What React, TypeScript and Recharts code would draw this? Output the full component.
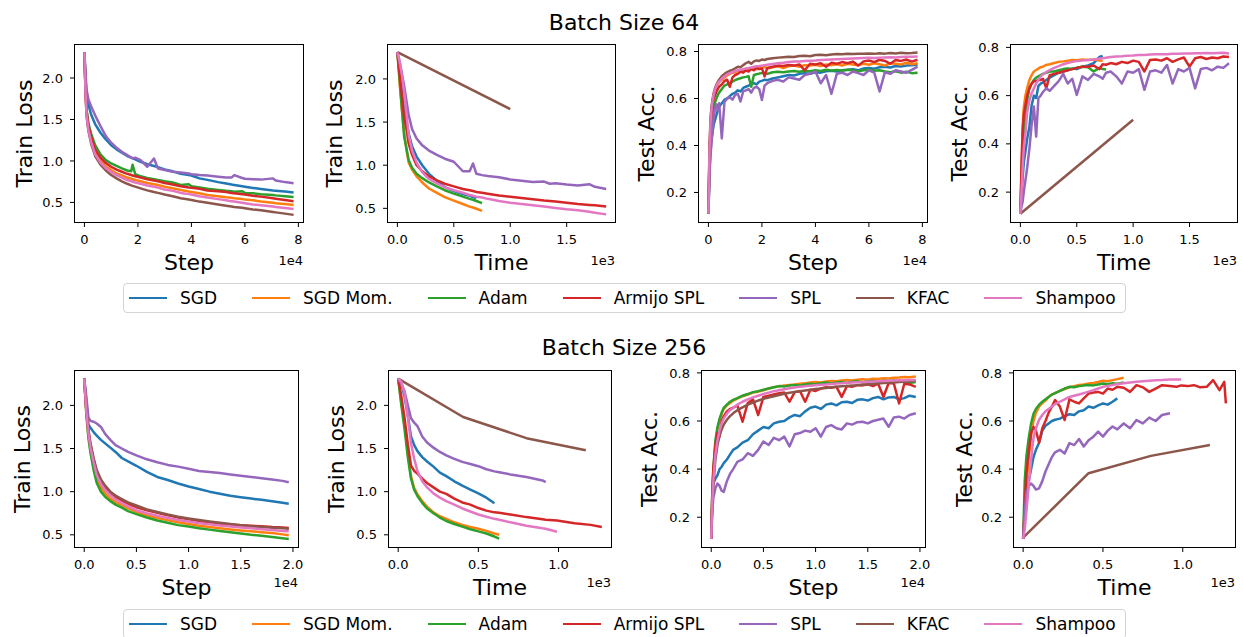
import React from 'react';
import { LineChart, Line, XAxis, YAxis } from 'recharts';

const NAMES = ['SGD', 'SGD Mom.', 'Adam', 'Armijo SPL', 'SPL', 'KFAC', 'Shampoo'];
const COLORS = ['#1f77b4', '#ff7f0e', '#2ca02c', '#d62728', '#9467bd', '#8c564b', '#e377c2'];

// ---------- Batch 64: train loss vs step (x in 1e4) ----------
const STEP64_L = [0, 0.04, 0.08, 0.15, 0.25, 0.4, 0.6, 0.8, 1.0, 1.2, 1.4, 1.6, 1.75, 1.8, 1.9, 2.1, 2.35, 2.6, 2.75, 3.0, 3.3, 3.6, 3.9, 4.0, 4.3, 4.6, 5.0, 5.3, 5.5, 5.6, 5.9, 6.0, 6.3, 6.6, 7.05, 7.15, 7.5, 7.82];
const SGD_L64 = [2.31, 2.0, 1.8, 1.68, 1.56, 1.445, 1.34, 1.26, 1.19, 1.14, 1.10, 1.06, 1.04, 1.035, 1.02, 0.99, 0.96, 0.94, 0.925, 0.897, 0.875, 0.845, 0.83, 0.825, 0.79, 0.772, 0.745, 0.728, 0.715, 0.71, 0.695, 0.69, 0.675, 0.662, 0.645, 0.642, 0.632, 0.62];
const MOM_L64 = [2.31, 1.85, 1.57, 1.39, 1.25, 1.10, 1.0, 0.935, 0.89, 0.85, 0.825, 0.80, 0.785, 0.78, 0.77, 0.755, 0.735, 0.72, 0.71, 0.69, 0.67, 0.65, 0.632, 0.627, 0.61, 0.59, 0.575, 0.562, 0.555, 0.55, 0.54, 0.535, 0.525, 0.51, 0.495, 0.49, 0.48, 0.47];
const ADAM_L64 = [2.31, 1.9, 1.62, 1.45, 1.33, 1.19, 1.08, 1.01, 0.97, 0.94, 0.91, 0.885, 0.875, 0.955, 0.84, 0.815, 0.795, 0.78, 0.77, 0.755, 0.74, 0.71, 0.72, 0.695, 0.68, 0.665, 0.65, 0.64, 0.635, 0.63, 0.635, 0.615, 0.61, 0.60, 0.59, 0.585, 0.575, 0.565];
const ARM_L64 = [2.31, 1.88, 1.6, 1.42, 1.29, 1.14, 1.04, 0.975, 0.93, 0.895, 0.87, 0.845, 0.83, 0.825, 0.815, 0.80, 0.78, 0.765, 0.755, 0.735, 0.715, 0.695, 0.68, 0.677, 0.665, 0.645, 0.635, 0.625, 0.615, 0.61, 0.60, 0.595, 0.58, 0.57, 0.55, 0.545, 0.53, 0.515];
const SPL_L64 = [2.31, 2.05, 1.86, 1.74, 1.66, 1.55, 1.42, 1.30, 1.22, 1.16, 1.11, 1.07, 1.04, 1.03, 1.04, 1.01, 0.93, 1.03, 0.91, 0.89, 0.87, 0.86, 0.85, 0.84, 0.83, 0.825, 0.81, 0.80, 0.80, 0.83, 0.795, 0.785, 0.78, 0.775, 0.79, 0.765, 0.745, 0.73];
const KFAC_L64 = [2.31, 1.83, 1.54, 1.36, 1.21, 1.06, 0.955, 0.885, 0.83, 0.79, 0.755, 0.725, 0.705, 0.70, 0.69, 0.67, 0.645, 0.625, 0.615, 0.595, 0.575, 0.55, 0.535, 0.53, 0.51, 0.495, 0.475, 0.46, 0.45, 0.445, 0.435, 0.43, 0.415, 0.405, 0.385, 0.38, 0.365, 0.35];
const SHA_L64 = [2.31, 1.84, 1.55, 1.37, 1.23, 1.08, 0.98, 0.915, 0.865, 0.83, 0.80, 0.77, 0.755, 0.75, 0.74, 0.725, 0.705, 0.69, 0.68, 0.655, 0.64, 0.615, 0.60, 0.595, 0.575, 0.56, 0.54, 0.525, 0.515, 0.51, 0.495, 0.49, 0.475, 0.465, 0.45, 0.445, 0.432, 0.42];

// ---------- Batch 64: train loss vs time (x in 1e3) ----------
const TIME64_L = [0, 0.02, 0.04, 0.06, 0.08, 0.1, 0.13, 0.17, 0.22, 0.28, 0.35, 0.42, 0.5, 0.58, 0.64, 0.67, 0.7, 0.75, 0.8, 0.9, 1.0, 1.1, 1.2, 1.3, 1.35, 1.4, 1.5, 1.6, 1.7, 1.75, 1.85];
const SGD_LT64 = [2.31, 2.1, 1.85, 1.65, 1.5, 1.37, 1.22, 1.10, 1.0, 0.9, 0.82, 0.745, 0.70, 0.665, 0.645, 0.632, 0.62];
const MOM_LT64 = [2.31, 1.95, 1.65, 1.38, 1.18, 1.03, 0.95, 0.87, 0.80, 0.73, 0.68, 0.63, 0.59, 0.55, 0.52, 0.51, 0.495, 0.47];
const ADAM_LT64 = [2.31, 2.0, 1.65, 1.33, 1.2, 1.06, 0.97, 0.90, 0.85, 0.80, 0.755, 0.71, 0.67, 0.635, 0.61, 0.60, 0.585, 0.56];
const ARM_LT64 = [2.31, 2.05, 1.8, 1.55, 1.42, 1.25, 1.12, 1.0, 0.93, 0.87, 0.825, 0.785, 0.755, 0.725, 0.71, 0.70, 0.69, 0.68, 0.67, 0.65, 0.635, 0.62, 0.605, 0.59, 0.585, 0.578, 0.565, 0.55, 0.54, 0.535, 0.52];
const SPL_LT64 = [2.31, 2.2, 2.06, 1.92, 1.75, 1.58, 1.42, 1.31, 1.23, 1.17, 1.12, 1.075, 1.04, 0.93, 0.93, 1.02, 0.90, 0.885, 0.875, 0.86, 0.835, 0.82, 0.805, 0.81, 0.785, 0.79, 0.775, 0.765, 0.78, 0.75, 0.725];
const SHA_LT64 = [2.31, 2.2, 2.05, 1.85, 1.6, 1.35, 1.17, 1.03, 0.92, 0.84, 0.79, 0.745, 0.71, 0.68, 0.655, 0.645, 0.635, 0.625, 0.61, 0.585, 0.565, 0.55, 0.535, 0.52, 0.512, 0.505, 0.49, 0.478, 0.46, 0.45, 0.43];
const KFAC_LT64_X = [0, 1.0];
const KFAC_LT64 = [2.31, 1.65];

// ---------- Batch 64: test acc vs step (x in 1e4) ----------
const STEP64_A = [0, 0.04, 0.08, 0.12, 0.16, 0.2, 0.25, 0.3, 0.35, 0.4, 0.5, 0.6, 0.7, 0.8, 0.9, 1.0, 1.1, 1.2, 1.3, 1.4, 1.5, 1.6, 1.7, 1.8, 1.9, 2.0, 2.1, 2.2, 2.4, 2.6, 2.8, 3.0, 3.2, 3.4, 3.6, 3.8, 4.0, 4.2, 4.4, 4.6, 4.8, 5.0, 5.2, 5.4, 5.6, 5.8, 6.0, 6.2, 6.4, 6.6, 6.8, 7.0, 7.2, 7.4, 7.6, 7.82];
const SGD_A64 = [0.11, 0.30, 0.38, 0.43, 0.46, 0.49, 0.51, 0.53, 0.55, 0.565, 0.58, 0.595, 0.60, 0.61, 0.62, 0.625, 0.635, 0.63, 0.645, 0.65, 0.655, 0.66, 0.665, 0.66, 0.672, 0.675, 0.68, 0.678, 0.685, 0.69, 0.695, 0.70, 0.698, 0.705, 0.708, 0.705, 0.712, 0.71, 0.716, 0.718, 0.715, 0.72, 0.722, 0.725, 0.72, 0.728, 0.73, 0.727, 0.733, 0.735, 0.732, 0.738, 0.736, 0.74, 0.742, 0.745];
const MOM_A64 = [0.11, 0.37, 0.49, 0.555, 0.59, 0.615, 0.635, 0.65, 0.66, 0.67, 0.68, 0.69, 0.698, 0.705, 0.71, 0.712, 0.718, 0.715, 0.722, 0.725, 0.72, 0.727, 0.73, 0.725, 0.732, 0.73, 0.735, 0.728, 0.733, 0.737, 0.73, 0.738, 0.74, 0.735, 0.742, 0.74, 0.744, 0.738, 0.745, 0.742, 0.746, 0.74, 0.748, 0.745, 0.742, 0.748, 0.744, 0.75, 0.746, 0.74, 0.75, 0.748, 0.745, 0.752, 0.746, 0.75];
const ADAM_A64 = [0.11, 0.33, 0.45, 0.51, 0.54, 0.565, 0.585, 0.60, 0.615, 0.625, 0.64, 0.655, 0.66, 0.665, 0.672, 0.678, 0.683, 0.686, 0.69, 0.692, 0.695, 0.65, 0.70, 0.703, 0.706, 0.708, 0.71, 0.705, 0.712, 0.714, 0.712, 0.715, 0.717, 0.714, 0.718, 0.716, 0.72, 0.717, 0.722, 0.719, 0.721, 0.718, 0.722, 0.72, 0.716, 0.72, 0.722, 0.718, 0.72, 0.715, 0.712, 0.716, 0.71, 0.714, 0.708, 0.71];
const ARM_A64 = [0.11, 0.36, 0.48, 0.54, 0.58, 0.60, 0.615, 0.63, 0.64, 0.65, 0.66, 0.675, 0.68, 0.65, 0.69, 0.70, 0.705, 0.715, 0.71, 0.72, 0.715, 0.725, 0.72, 0.73, 0.725, 0.728, 0.694, 0.73, 0.735, 0.74, 0.738, 0.743, 0.74, 0.745, 0.72, 0.748, 0.745, 0.75, 0.735, 0.752, 0.748, 0.755, 0.75, 0.757, 0.74, 0.758, 0.762, 0.755, 0.765, 0.76, 0.748, 0.764, 0.76, 0.766, 0.757, 0.765];
const SPL_A64 = [0.11, 0.28, 0.36, 0.42, 0.47, 0.52, 0.56, 0.575, 0.55, 0.58, 0.43, 0.585, 0.60, 0.605, 0.595, 0.615, 0.62, 0.587, 0.63, 0.635, 0.64, 0.625, 0.645, 0.65, 0.64, 0.594, 0.655, 0.665, 0.675, 0.68, 0.672, 0.69, 0.685, 0.68, 0.70, 0.705, 0.715, 0.665, 0.70, 0.62, 0.705, 0.71, 0.70, 0.715, 0.708, 0.70, 0.72, 0.71, 0.63, 0.712, 0.705, 0.72, 0.715, 0.71, 0.722, 0.736];
const KFAC_A64 = [0.11, 0.40, 0.52, 0.57, 0.60, 0.625, 0.645, 0.66, 0.67, 0.68, 0.695, 0.705, 0.712, 0.718, 0.722, 0.728, 0.735, 0.733, 0.742, 0.75, 0.756, 0.748, 0.758, 0.762, 0.76, 0.766, 0.764, 0.768, 0.771, 0.774, 0.776, 0.778, 0.777, 0.781, 0.782, 0.78, 0.785, 0.786, 0.784, 0.787, 0.789, 0.788, 0.79, 0.789, 0.791, 0.79, 0.792, 0.79, 0.793, 0.791, 0.794, 0.792, 0.795, 0.793, 0.794, 0.796];
const SHA_A64 = [0.11, 0.38, 0.50, 0.56, 0.595, 0.62, 0.64, 0.655, 0.665, 0.672, 0.685, 0.695, 0.703, 0.708, 0.712, 0.717, 0.72, 0.722, 0.725, 0.728, 0.73, 0.732, 0.735, 0.737, 0.738, 0.74, 0.742, 0.744, 0.747, 0.75, 0.752, 0.755, 0.757, 0.758, 0.76, 0.761, 0.762, 0.764, 0.765, 0.766, 0.767, 0.768, 0.769, 0.77, 0.771, 0.772, 0.773, 0.772, 0.774, 0.775, 0.776, 0.775, 0.777, 0.778, 0.778, 0.779];

// ---------- Batch 64: test acc vs time (x in 1e3) ----------
const TIME64_A = [0, 0.01, 0.02, 0.03, 0.045, 0.06, 0.08, 0.1, 0.12, 0.14, 0.16, 0.18, 0.2, 0.23, 0.26, 0.3, 0.34, 0.38, 0.42, 0.46, 0.5, 0.55, 0.6, 0.65, 0.7, 0.73, 0.76, 0.8, 0.85, 0.9, 0.95, 1.0, 1.05, 1.1, 1.15, 1.2, 1.25, 1.3, 1.35, 1.4, 1.45, 1.5, 1.55, 1.6, 1.65, 1.7, 1.75, 1.8, 1.85];
const SGD_AT64 = [0.11, 0.18, 0.26, 0.32, 0.37, 0.42, 0.47, 0.56, 0.60, 0.59, 0.64, 0.65, 0.655, 0.665, 0.675, 0.685, 0.695, 0.70, 0.705, 0.712, 0.71, 0.72, 0.725, 0.735, 0.76, 0.765];
const MOM_AT64 = [0.11, 0.3, 0.47, 0.55, 0.6, 0.63, 0.665, 0.685, 0.70, 0.706, 0.712, 0.718, 0.72, 0.727, 0.73, 0.735, 0.74, 0.742, 0.745, 0.748, 0.747, 0.75, 0.748, 0.75, 0.746, 0.745];
const ADAM_AT64 = [0.11, 0.25, 0.38, 0.45, 0.52, 0.58, 0.63, 0.65, 0.665, 0.675, 0.68, 0.685, 0.69, 0.695, 0.70, 0.70, 0.705, 0.71, 0.713, 0.71, 0.716, 0.72, 0.718, 0.70, 0.715, 0.71, 0.708];
const ARM_AT64 = [0.11, 0.3, 0.45, 0.52, 0.56, 0.6, 0.63, 0.65, 0.66, 0.66, 0.665, 0.665, 0.67, 0.63, 0.685, 0.69, 0.695, 0.70, 0.705, 0.71, 0.715, 0.72, 0.72, 0.725, 0.71, 0.73, 0.728, 0.735, 0.73, 0.74, 0.735, 0.745, 0.74, 0.70, 0.748, 0.75, 0.745, 0.755, 0.74, 0.75, 0.758, 0.72, 0.755, 0.76, 0.752, 0.758, 0.755, 0.762, 0.76];
const SPL_AT64 = [0.11, 0.14, 0.16, 0.2, 0.25, 0.30, 0.38, 0.48, 0.555, 0.43, 0.59, 0.60, 0.615, 0.63, 0.62, 0.64, 0.66, 0.69, 0.65, 0.67, 0.603, 0.68, 0.665, 0.69, 0.68, 0.67, 0.695, 0.70, 0.68, 0.65, 0.70, 0.695, 0.71, 0.624, 0.70, 0.705, 0.695, 0.727, 0.65, 0.71, 0.70, 0.715, 0.63, 0.71, 0.715, 0.705, 0.72, 0.715, 0.734];
const SHA_AT64 = [0.11, 0.2, 0.3, 0.38, 0.44, 0.53, 0.58, 0.61, 0.63, 0.65, 0.665, 0.68, 0.688, 0.698, 0.706, 0.715, 0.722, 0.73, 0.735, 0.74, 0.743, 0.746, 0.748, 0.75, 0.753, 0.755, 0.757, 0.76, 0.762, 0.763, 0.765, 0.766, 0.768, 0.768, 0.77, 0.771, 0.772, 0.772, 0.774, 0.774, 0.775, 0.775, 0.776, 0.776, 0.777, 0.776, 0.777, 0.778, 0.775];
const KFAC_AT64_X = [0, 1.0];
const KFAC_AT64 = [0.11, 0.50];

// ---------- Batch 256: train loss vs step (x in 1e4) ----------
const STEP256_L = [0, 0.02, 0.04, 0.06, 0.09, 0.12, 0.16, 0.2, 0.25, 0.3, 0.36, 0.42, 0.5, 0.6, 0.7, 0.8, 0.9, 1.0, 1.1, 1.2, 1.3, 1.4, 1.5, 1.6, 1.7, 1.8, 1.9, 1.96];
const SGD_L256 = [2.31, 2.05, 1.78, 1.74, 1.69, 1.65, 1.60, 1.56, 1.51, 1.46, 1.39, 1.35, 1.30, 1.23, 1.17, 1.135, 1.095, 1.06, 1.03, 1.0, 0.975, 0.952, 0.935, 0.92, 0.905, 0.89, 0.872, 0.86];
const MOM_L256 = [2.31, 1.92, 1.65, 1.48, 1.3, 1.15, 1.05, 0.98, 0.92, 0.88, 0.845, 0.81, 0.765, 0.725, 0.695, 0.67, 0.645, 0.625, 0.605, 0.59, 0.575, 0.562, 0.55, 0.54, 0.53, 0.52, 0.505, 0.495];
const ADAM_L256 = [2.31, 1.9, 1.62, 1.45, 1.25, 1.1, 1.0, 0.94, 0.89, 0.85, 0.815, 0.775, 0.74, 0.70, 0.665, 0.64, 0.612, 0.595, 0.575, 0.56, 0.545, 0.53, 0.515, 0.50, 0.49, 0.475, 0.46, 0.45];
const ARM_L256 = [2.31, 1.95, 1.7, 1.54, 1.37, 1.22, 1.12, 1.05, 0.99, 0.94, 0.895, 0.86, 0.82, 0.785, 0.755, 0.725, 0.70, 0.68, 0.66, 0.645, 0.632, 0.62, 0.612, 0.605, 0.598, 0.59, 0.585, 0.58];
const SPL_L256 = [2.31, 2.1, 1.86, 1.82, 1.81, 1.79, 1.75, 1.67, 1.60, 1.54, 1.50, 1.46, 1.42, 1.375, 1.34, 1.31, 1.29, 1.265, 1.24, 1.228, 1.215, 1.20, 1.185, 1.17, 1.155, 1.14, 1.125, 1.11];
const KFAC_L256 = [2.31, 1.96, 1.72, 1.56, 1.39, 1.25, 1.14, 1.07, 1.0, 0.955, 0.915, 0.875, 0.84, 0.795, 0.765, 0.735, 0.71, 0.69, 0.672, 0.655, 0.64, 0.625, 0.612, 0.60, 0.59, 0.582, 0.575, 0.57];
const SHA_L256 = [2.31, 1.94, 1.68, 1.51, 1.34, 1.19, 1.09, 1.02, 0.96, 0.91, 0.87, 0.83, 0.785, 0.75, 0.72, 0.695, 0.672, 0.655, 0.635, 0.622, 0.608, 0.597, 0.585, 0.575, 0.565, 0.555, 0.545, 0.54];

// ---------- Batch 256: train loss vs time (x in 1e3) ----------
const TIME256_L = [0, 0.02, 0.04, 0.06, 0.08, 0.1, 0.12, 0.15, 0.18, 0.22, 0.26, 0.3, 0.35, 0.4, 0.45, 0.5, 0.55, 0.6, 0.63, 0.7, 0.8, 0.9, 0.92, 0.99, 1.1, 1.2, 1.27];
const SGD_LT256 = [2.31, 2.25, 2.1, 1.88, 1.64, 1.54, 1.47, 1.40, 1.35, 1.29, 1.22, 1.18, 1.12, 1.07, 1.025, 0.98, 0.93, 0.865];
const MOM_LT256 = [2.31, 2.02, 1.8, 1.45, 1.18, 1.04, 0.97, 0.89, 0.825, 0.76, 0.715, 0.685, 0.645, 0.615, 0.59, 0.57, 0.545, 0.515, 0.50];
const ADAM_LT256 = [2.31, 2.0, 1.72, 1.4, 1.15, 1.02, 0.95, 0.87, 0.805, 0.75, 0.70, 0.66, 0.625, 0.595, 0.565, 0.54, 0.515, 0.48, 0.455];
const ARM_LT256 = [2.31, 2.1, 1.85, 1.55, 1.30, 1.24, 1.21, 1.15, 1.10, 1.05, 1.0, 0.975, 0.92, 0.875, 0.85, 0.81, 0.78, 0.76, 0.755, 0.735, 0.705, 0.68, 0.675, 0.665, 0.635, 0.615, 0.59];
const SPL_LT256 = [2.31, 2.25, 2.16, 2.0, 1.85, 1.80, 1.76, 1.64, 1.57, 1.51, 1.46, 1.42, 1.38, 1.345, 1.32, 1.295, 1.26, 1.235, 1.225, 1.20, 1.17, 1.13, 1.11];
const SHA_LT256 = [2.31, 2.27, 2.14, 1.87, 1.56, 1.38, 1.24, 1.12, 1.05, 0.98, 0.93, 0.89, 0.85, 0.805, 0.77, 0.735, 0.71, 0.685, 0.675, 0.645, 0.605, 0.575, 0.57, 0.535];
const KFAC_LT256_X = [0, 0.405, 0.80, 1.17];
const KFAC_LT256 = [2.31, 1.865, 1.62, 1.48];

// ---------- Batch 256: test acc vs step (x in 1e4) ----------
const STEP256_A = [0, 0.01, 0.02, 0.04, 0.06, 0.08, 0.1, 0.12, 0.15, 0.18, 0.21, 0.25, 0.3, 0.35, 0.4, 0.45, 0.5, 0.55, 0.6, 0.65, 0.7, 0.75, 0.8, 0.85, 0.9, 0.95, 1.0, 1.05, 1.1, 1.15, 1.2, 1.25, 1.3, 1.35, 1.4, 1.45, 1.5, 1.55, 1.6, 1.65, 1.7, 1.75, 1.8, 1.85, 1.9, 1.96];
const SGD_A256 = [0.11, 0.28, 0.34, 0.36, 0.375, 0.40, 0.41, 0.425, 0.44, 0.46, 0.48, 0.49, 0.51, 0.52, 0.545, 0.56, 0.575, 0.57, 0.59, 0.597, 0.60, 0.615, 0.625, 0.62, 0.64, 0.655, 0.66, 0.65, 0.668, 0.673, 0.665, 0.678, 0.68, 0.675, 0.688, 0.69, 0.685, 0.695, 0.70, 0.69, 0.698, 0.70, 0.69, 0.695, 0.705, 0.70];
const MOM_A256 = [0.11, 0.28, 0.38, 0.50, 0.565, 0.60, 0.63, 0.65, 0.665, 0.675, 0.685, 0.693, 0.703, 0.71, 0.718, 0.722, 0.728, 0.735, 0.74, 0.744, 0.748, 0.75, 0.752, 0.755, 0.757, 0.76, 0.762, 0.76, 0.764, 0.766, 0.765, 0.768, 0.77, 0.768, 0.772, 0.774, 0.772, 0.776, 0.775, 0.778, 0.777, 0.78, 0.781, 0.783, 0.782, 0.785];
const ADAM_A256 = [0.11, 0.30, 0.40, 0.52, 0.575, 0.61, 0.635, 0.655, 0.668, 0.68, 0.688, 0.695, 0.705, 0.712, 0.72, 0.724, 0.73, 0.735, 0.74, 0.745, 0.743, 0.748, 0.75, 0.748, 0.752, 0.755, 0.753, 0.757, 0.76, 0.756, 0.76, 0.762, 0.758, 0.763, 0.765, 0.76, 0.764, 0.766, 0.762, 0.767, 0.765, 0.768, 0.764, 0.766, 0.758, 0.762];
const ARM_A256 = [0.11, 0.30, 0.40, 0.50, 0.55, 0.535, 0.60, 0.62, 0.64, 0.65, 0.655, 0.665, 0.597, 0.675, 0.69, 0.625, 0.70, 0.705, 0.71, 0.715, 0.718, 0.68, 0.72, 0.725, 0.68, 0.73, 0.725, 0.735, 0.74, 0.738, 0.742, 0.70, 0.745, 0.742, 0.75, 0.748, 0.752, 0.745, 0.755, 0.70, 0.758, 0.756, 0.673, 0.755, 0.752, 0.742];
const SPL_A256 = [0.11, 0.22, 0.28, 0.32, 0.34, 0.33, 0.31, 0.305, 0.35, 0.38, 0.40, 0.43, 0.44, 0.466, 0.455, 0.48, 0.515, 0.50, 0.53, 0.52, 0.535, 0.494, 0.545, 0.55, 0.56, 0.555, 0.57, 0.535, 0.575, 0.583, 0.57, 0.565, 0.59, 0.585, 0.595, 0.597, 0.59, 0.60, 0.605, 0.61, 0.576, 0.615, 0.618, 0.61, 0.625, 0.632];
const KFAC_A256 = [0.11, 0.25, 0.33, 0.44, 0.50, 0.54, 0.565, 0.585, 0.605, 0.62, 0.632, 0.645, 0.657, 0.668, 0.677, 0.685, 0.692, 0.698, 0.703, 0.708, 0.713, 0.717, 0.721, 0.724, 0.727, 0.73, 0.733, 0.735, 0.737, 0.74, 0.742, 0.744, 0.746, 0.748, 0.749, 0.751, 0.753, 0.754, 0.756, 0.758, 0.759, 0.76, 0.762, 0.763, 0.765, 0.767];
const SHA_A256 = [0.11, 0.26, 0.35, 0.46, 0.52, 0.56, 0.59, 0.61, 0.63, 0.645, 0.655, 0.668, 0.68, 0.69, 0.698, 0.705, 0.712, 0.718, 0.724, 0.728, 0.732, 0.736, 0.739, 0.742, 0.744, 0.747, 0.749, 0.751, 0.752, 0.754, 0.756, 0.757, 0.759, 0.76, 0.761, 0.762, 0.763, 0.764, 0.765, 0.766, 0.767, 0.768, 0.769, 0.769, 0.77, 0.77];

// ---------- Batch 256: test acc vs time (x in 1e3) ----------
const TIME256_A = [0, 0.01, 0.02, 0.035, 0.05, 0.065, 0.08, 0.1, 0.12, 0.14, 0.16, 0.18, 0.2, 0.23, 0.26, 0.29, 0.32, 0.35, 0.38, 0.41, 0.44, 0.47, 0.5, 0.53, 0.56, 0.59, 0.63, 0.67, 0.71, 0.75, 0.79, 0.83, 0.87, 0.92, 0.96, 0.99, 1.03, 1.07, 1.11, 1.15, 1.19, 1.23, 1.26, 1.27];
const SGD_AT256 = [0.11, 0.2, 0.28, 0.35, 0.40, 0.45, 0.48, 0.51, 0.56, 0.58, 0.59, 0.60, 0.605, 0.61, 0.62, 0.628, 0.625, 0.64, 0.645, 0.66, 0.655, 0.665, 0.673, 0.668, 0.68, 0.694];
const MOM_AT256 = [0.11, 0.22, 0.32, 0.45, 0.54, 0.60, 0.635, 0.66, 0.675, 0.685, 0.70, 0.71, 0.716, 0.725, 0.733, 0.74, 0.745, 0.75, 0.752, 0.756, 0.758, 0.762, 0.767, 0.765, 0.77, 0.774, 0.78];
const ADAM_AT256 = [0.11, 0.35, 0.45, 0.53, 0.59, 0.63, 0.65, 0.668, 0.68, 0.69, 0.70, 0.71, 0.716, 0.725, 0.735, 0.742, 0.74, 0.745, 0.748, 0.75, 0.748, 0.752, 0.756, 0.753, 0.757, 0.755, 0.76];
const ARM_AT256 = [0.11, 0.25, 0.38, 0.47, 0.55, 0.575, 0.56, 0.51, 0.57, 0.60, 0.635, 0.66, 0.687, 0.66, 0.604, 0.69, 0.68, 0.673, 0.694, 0.714, 0.718, 0.721, 0.714, 0.735, 0.73, 0.742, 0.738, 0.721, 0.749, 0.74, 0.721, 0.735, 0.749, 0.745, 0.742, 0.748, 0.745, 0.749, 0.74, 0.742, 0.77, 0.728, 0.763, 0.673];
const SPL_AT256 = [0.11, 0.22, 0.30, 0.33, 0.34, 0.33, 0.315, 0.32, 0.35, 0.39, 0.42, 0.45, 0.47, 0.48, 0.465, 0.508, 0.50, 0.525, 0.494, 0.52, 0.535, 0.556, 0.535, 0.56, 0.577, 0.565, 0.59, 0.57, 0.604, 0.59, 0.614, 0.60, 0.625, 0.632];
const SHA_AT256 = [0.11, 0.15, 0.22, 0.33, 0.44, 0.53, 0.57, 0.605, 0.625, 0.64, 0.65, 0.66, 0.67, 0.68, 0.69, 0.70, 0.705, 0.71, 0.716, 0.722, 0.728, 0.735, 0.742, 0.746, 0.75, 0.754, 0.757, 0.76, 0.763, 0.765, 0.767, 0.769, 0.77, 0.772, 0.773, 0.773];
const KFAC_AT256_X = [0, 0.41, 0.80, 1.17];
const KFAC_AT256 = [0.115, 0.383, 0.455, 0.50];

const LOSS_TICKS = [0.5, 1.0, 1.5, 2.0];
const ACC_TICKS = [0.2, 0.4, 0.6, 0.8];
const STEP64_TICKS = [0, 2, 4, 6, 8];
const STEP256_TICKS = [0, 0.5, 1.0, 1.5, 2.0];
const TIME64_TICKS = [0, 0.5, 1.0, 1.5];
const TIME256_TICKS = [0, 0.5, 1.0];

type Pt = { x: number; y: number };
const zip = (xs: number[], ys: number[]): Pt[] => ys.map((y, i) => ({ x: xs[i], y }));
const f1 = (v: number) => v.toFixed(1);
const f0 = (v: number) => String(v);

const FONT = 'DejaVu Sans, Liberation Sans, sans-serif';

interface PanelDef {
  L: number; T: number; W: number; H: number;
  xd: [number, number]; yd: [number, number];
  xt: number[]; yt: number[]; xf: (v: number) => string;
  xl: string; yl: string; ex: string; ylx: number;
  series: Pt[][];
}

const PANELS: PanelDef[] = [
  {
    L: 74, T: 44, W: 230, H: 179, xd: [-0.39, 8.21], yd: [0.252, 2.41], xt: STEP64_TICKS, yt: LOSS_TICKS, xf: f0,
    xl: 'Step', yl: 'Train Loss', ex: '1e4', ylx: 32,
    series: [zip(STEP64_L, SGD_L64), zip(STEP64_L, MOM_L64), zip(STEP64_L, ADAM_L64), zip(STEP64_L, ARM_L64), zip(STEP64_L, SPL_L64), zip(STEP64_L, KFAC_L64), zip(STEP64_L, SHA_L64)],
  },
  {
    L: 387, T: 44, W: 229, H: 179, xd: [-0.092, 1.937], yd: [0.33, 2.405], xt: TIME64_TICKS, yt: LOSS_TICKS, xf: f1,
    xl: 'Time', yl: 'Train Loss', ex: '1e3', ylx: 342,
    series: [zip(TIME64_L, SGD_LT64), zip(TIME64_L, MOM_LT64), zip(TIME64_L, ADAM_LT64), zip(TIME64_L, ARM_LT64), zip(TIME64_L, SPL_LT64), zip(KFAC_LT64_X, KFAC_LT64), zip(TIME64_L, SHA_LT64)],
  },
  {
    L: 698, T: 44, W: 230, H: 179, xd: [-0.39, 8.21], yd: [0.07, 0.832], xt: STEP64_TICKS, yt: ACC_TICKS, xf: f0,
    xl: 'Step', yl: 'Test Acc.', ex: '1e4', ylx: 654,
    series: [zip(STEP64_A, SGD_A64), zip(STEP64_A, MOM_A64), zip(STEP64_A, ADAM_A64), zip(STEP64_A, ARM_A64), zip(STEP64_A, SPL_A64), zip(STEP64_A, KFAC_A64), zip(STEP64_A, SHA_A64)],
  },
  {
    L: 1010, T: 44, W: 228, H: 179, xd: [-0.092, 1.93], yd: [0.072, 0.814], xt: TIME64_TICKS, yt: ACC_TICKS, xf: f1,
    xl: 'Time', yl: 'Test Acc.', ex: '1e3', ylx: 967,
    series: [zip(TIME64_A, SGD_AT64), zip(TIME64_A, MOM_AT64), zip(TIME64_A, ADAM_AT64), zip(TIME64_A, ARM_AT64), zip(TIME64_A, SPL_AT64), zip(KFAC_AT64_X, KFAC_AT64), zip(TIME64_A, SHA_AT64)],
  },
  {
    L: 74, T: 370, W: 225, H: 178, xd: [-0.098, 2.058], yd: [0.347, 2.41], xt: STEP256_TICKS, yt: LOSS_TICKS, xf: f1,
    xl: 'Step', yl: 'Train Loss', ex: '1e4', ylx: 30,
    series: [zip(STEP256_L, SGD_L256), zip(STEP256_L, MOM_L256), zip(STEP256_L, ADAM_L256), zip(STEP256_L, ARM_L256), zip(STEP256_L, SPL_L256), zip(STEP256_L, KFAC_L256), zip(STEP256_L, SHA_L256)],
  },
  {
    L: 388, T: 370, W: 224, H: 178, xd: [-0.0635, 1.3335], yd: [0.347, 2.41], xt: TIME256_TICKS, yt: LOSS_TICKS, xf: f1,
    xl: 'Time', yl: 'Train Loss', ex: '1e3', ylx: 344,
    series: [zip(TIME256_L, SGD_LT256), zip(TIME256_L, MOM_LT256), zip(TIME256_L, ADAM_LT256), zip(TIME256_L, ARM_LT256), zip(TIME256_L, SPL_LT256), zip(KFAC_LT256_X, KFAC_LT256), zip(TIME256_L, SHA_LT256)],
  },
  {
    L: 701, T: 370, W: 225, H: 178, xd: [-0.098, 2.058], yd: [0.072, 0.812], xt: STEP256_TICKS, yt: ACC_TICKS, xf: f1,
    xl: 'Step', yl: 'Test Acc.', ex: '1e4', ylx: 657,
    series: [zip(STEP256_A, SGD_A256), zip(STEP256_A, MOM_A256), zip(STEP256_A, ADAM_A256), zip(STEP256_A, ARM_A256), zip(STEP256_A, SPL_A256), zip(STEP256_A, KFAC_A256), zip(STEP256_A, SHA_A256)],
  },
  {
    L: 1013, T: 370, W: 223, H: 178, xd: [-0.0635, 1.3335], yd: [0.072, 0.812], xt: TIME256_TICKS, yt: ACC_TICKS, xf: f1,
    xl: 'Time', yl: 'Test Acc.', ex: '1e3', ylx: 972,
    series: [zip(TIME256_A, SGD_AT256), zip(TIME256_A, MOM_AT256), zip(TIME256_A, ADAM_AT256), zip(TIME256_A, ARM_AT256), zip(TIME256_A, SPL_AT256), zip(KFAC_AT256_X, KFAC_AT256), zip(TIME256_A, SHA_AT256)],
  },
];

const YW = 60;
const XH = 30;
const MT = 12;
const MR = 16;
const TICK_STYLE = { fill: '#000', fontSize: 13, fontFamily: FONT };

function Panel({ p }: { p: PanelDef }) {
  return (
    <div style={{ position: 'absolute', left: p.L - YW, top: p.T - MT }}>
      <LineChart width={YW + p.W + MR} height={MT + p.H + XH} margin={{ top: MT, right: MR, bottom: 0, left: 0 }}>
        <XAxis
          type="number"
          dataKey="x"
          domain={p.xd}
          ticks={p.xt}
          allowDataOverflow
          interval={0}
          tickFormatter={p.xf}
          axisLine={false}
          tickLine={{ stroke: '#000', strokeWidth: 1 }}
          tickSize={4}
          tickMargin={8}
          height={XH}
          tick={TICK_STYLE}
        />
        <YAxis
          type="number"
          domain={p.yd}
          ticks={p.yt}
          allowDataOverflow
          interval={0}
          tickFormatter={f1}
          axisLine={false}
          tickLine={{ stroke: '#000', strokeWidth: 1 }}
          tickSize={4}
          tickMargin={7}
          width={YW}
          tick={TICK_STYLE}
        />
        {p.series.map((s, i) => (
          <Line
            key={NAMES[i]}
            data={s}
            dataKey="y"
            type="linear"
            stroke={COLORS[i]}
            strokeWidth={2.5}
            strokeLinejoin="round"
            dot={false}
            activeDot={false}
            isAnimationActive={false}
          />
        ))}
      </LineChart>
    </div>
  );
}

function LegendBox({ top }: { top: number }) {
  return (
    <div
      style={{
        position: 'absolute', left: 123, top, width: 1003, height: 30, boxSizing: 'border-box',
        border: '1px solid #d4d4d4', borderRadius: 4, background: '#fff',
        display: 'flex', alignItems: 'center', paddingLeft: 5, gap: 35,
        fontFamily: FONT, fontSize: 17, color: '#000',
      }}
    >
      {NAMES.map((n, i) => (
        <div key={n} style={{ display: 'flex', alignItems: 'center' }}>
          <div style={{ width: 38, height: 2.6, background: COLORS[i], marginRight: 13 }} />
          <span style={{ whiteSpace: 'nowrap', lineHeight: '20px' }}>{n}</span>
        </div>
      ))}
    </div>
  );
}

export default function App() {
  return (
    <div style={{ position: 'absolute', left: 0, top: 0, width: 1243, height: 637, background: '#fff', overflow: 'hidden' }}>
      {PANELS.map((p, i) => <Panel key={i} p={p} />)}
      <svg width={1243} height={637} style={{ position: 'absolute', left: 0, top: 0, pointerEvents: 'none' }}>
        <text x={624} y={30} textAnchor="middle" fontSize={22} fontFamily={FONT} fill="#000">Batch Size 64</text>
        <text x={624} y={355} textAnchor="middle" fontSize={22} fontFamily={FONT} fill="#000">Batch Size 256</text>
        {PANELS.map((p, i) => {
          const top = i < 4;
          const cx = p.L + p.W / 2;
          const cy = p.T + p.H / 2;
          const xlY = top ? 270 : 594.5;
          const exY = top ? 264.5 : 587;
          return (
            <g key={i}>
              <rect x={p.L + 0.5} y={p.T + 0.5} width={p.W - 1} height={p.H - 1} fill="none" stroke="#000" strokeWidth={1} />
              <text x={cx} y={xlY} textAnchor="middle" fontSize={22} fontFamily={FONT} fill="#000">{p.xl}</text>
              <text x={p.L + p.W - 1} y={exY} textAnchor="end" fontSize={13} fontFamily={FONT} fill="#000">{p.ex}</text>
              <text x={p.ylx} y={cy} textAnchor="middle" fontSize={22} fontFamily={FONT} fill="#000" transform={`rotate(-90 ${p.ylx} ${cy})`}>{p.yl}</text>
            </g>
          );
        })}
      </svg>
      <LegendBox top={283} />
      <LegendBox top={609} />
    </div>
  );
}
